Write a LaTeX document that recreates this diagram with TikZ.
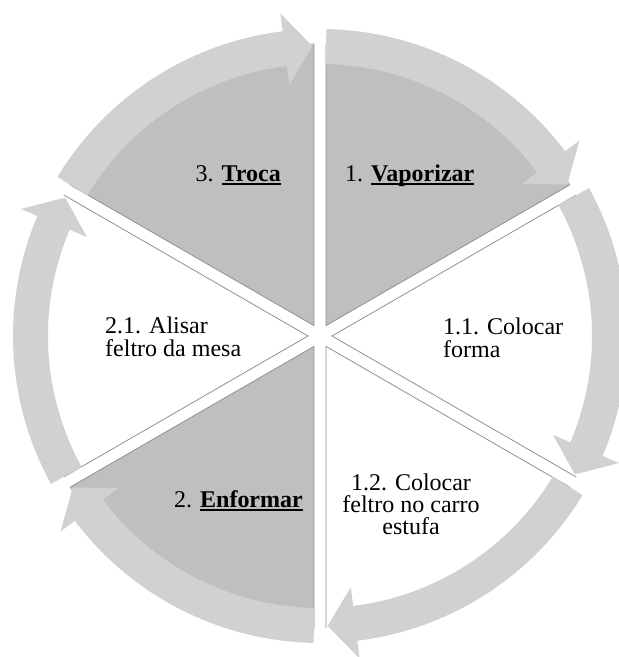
\documentclass[tikz,border=0pt]{standalone}
\usepackage{fontspec}
\setmainfont{Liberation Serif}
\definecolor{ringgray}{RGB}{209,209,209}
\definecolor{sectorgray}{RGB}{191,191,191}
\definecolor{edgegray}{RGB}{145,145,145}
% underline drawn close to the baseline, crossing descenders
\newcommand\undl[1]{\setbox0\hbox{#1}\rlap{\rule[-2.6pt]{\wd0}{1.4pt}}\box0}
\tikzset{
  txt/.style={inner sep=0pt, font=\fontsize{24}{24}\selectfont},
  edge/.style={draw=edgegray, line width=0.8pt},
  ringarrow/.style={fill=ringgray}
}
\begin{document}
\begin{tikzpicture}[x=1pt,y=1pt]
\useasboundingbox (0,0) rectangle (619,657);
\clip (0,0) rectangle (619,657);
\begin{scope}[shift={(320,321)}]
  % six pie sectors, each pushed out along its bisector
  \foreach \b/\c in {60/sectorgray, 0/white, -60/white, -120/sectorgray, 180/white, 120/sectorgray}{
    \fill[\c] (\b:12) -- ++(\b-30:282) arc[start angle=\b-30, end angle=\b+30, radius=282] -- cycle;
    \path[edge] (\b:12) ++(\b-30:282) -- (\b:12) -- ++(\b+30:282);
  }
  % ring of six clockwise arrows, each tip ending at a sector boundary
  \foreach \e in {90,30,-30,-90,-150,150}{
    \fill[ringarrow] (\e+58.8:307) arc[start angle=\e+58.8, end angle=\e+7, radius=307]
      -- (\e+7:325) -- (\e+1.5:290) -- (\e+7:253) -- (\e+7:272)
      arc[start angle=\e+7, end angle=\e+58.8, radius=272] -- cycle;
  }
\end{scope}
% labels
\node[txt, anchor=base east] (troca) at (281,475) {3. \undl{\textbf{Troca}}};
\node[txt, anchor=base west] (vapor) at (345,475) {1. \undl{\textbf{Vaporizar}}};
\node[txt, anchor=base west] (forma1) at (443,322) {1.1. Colocar};
\node[txt, anchor=base west] (forma2) at (443,299) {forma};
\node[txt, anchor=base west] (alisar1) at (105,323) {2.1. Alisar};
\node[txt, anchor=base west] (alisar2) at (105,300) {feltro da mesa};
\node[txt, anchor=base] (carro1) at (411,166) {1.2. Colocar};
\node[txt, anchor=base] (carro2) at (411,144) {feltro no carro};
\node[txt, anchor=base] (carro3) at (411,122) {estufa};
\node[txt, anchor=base east] (enformar) at (303,149) {2. \undl{\textbf{Enformar}}};
\end{tikzpicture}
\end{document}
